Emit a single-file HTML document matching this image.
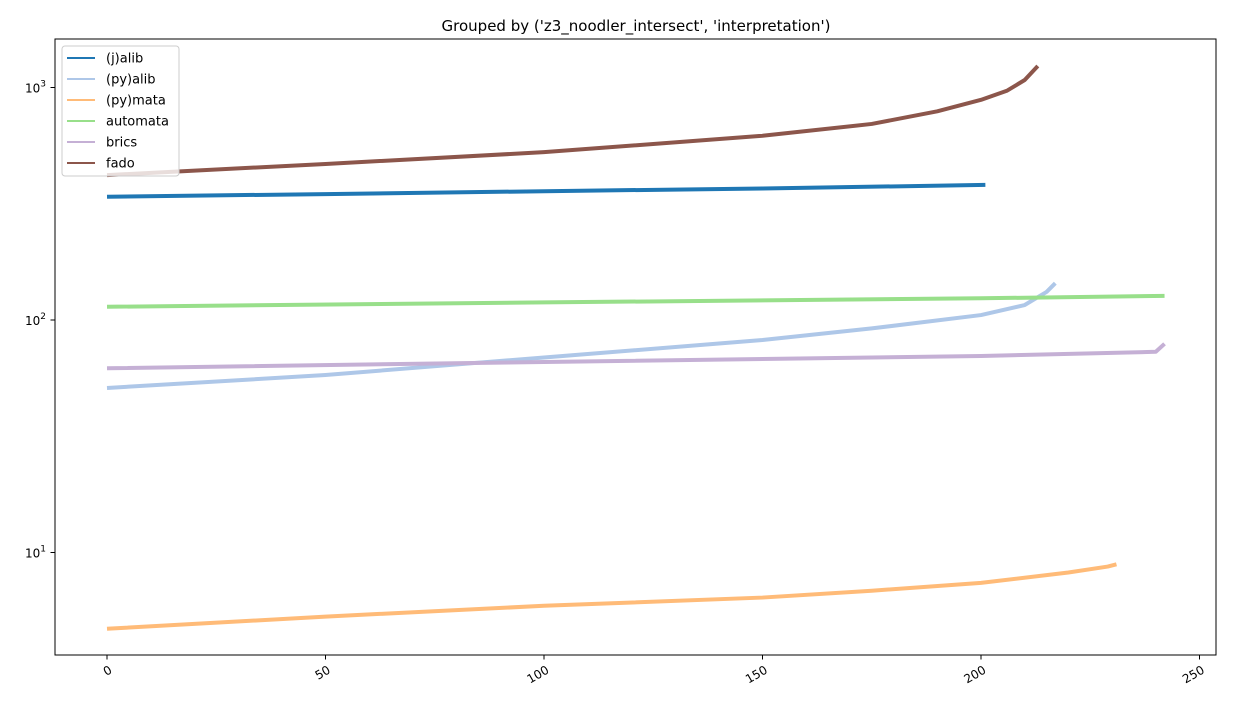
<!DOCTYPE html>
<html><head><meta charset="utf-8"><style>
body{margin:0;background:#fff;font-family:"Liberation Sans","DejaVu Sans",sans-serif}
svg text{font-family:"DejaVu Sans","Liberation Sans",sans-serif}
</style></head><body>
<svg id="chart" width="1237" height="710" xmlns="http://www.w3.org/2000/svg">
<rect width="1237" height="710" fill="#fff"/>
<text x="636" y="31" font-size="15" text-anchor="middle">Grouped by ('z3_noodler_intersect', 'interpretation')</text>
<g id="lines"></g>
<rect x="55" y="39" width="1161" height="616" fill="none" stroke="#000" stroke-width="1"/>
<g id="ticks"></g>
<g id="legend"></g>
</svg>
<script>
const seriesNames=["(j)alib","(py)alib","(py)mata","automata","brics","fado"];
const seriesColors=["#1f77b4","#aec7e8","#ffbb78","#98df8a","#c5b0d5","#8c564b"];
const xJalib=[0,50,100,150,201];const yJalib=[339,348,358,368,381];
const xPyalib=[0,50,100,150,175,200,210,215,217];const yPyalib=[51,58,69,82,92,105,116,132,144];
const xPymata=[0,50,100,150,175,200,220,229,231];const yPymata=[4.7,5.3,5.9,6.4,6.85,7.4,8.2,8.7,8.9];
const xAutomata=[0,100,200,242];const yAutomata=[114,119,124,127];
const xBrics=[0,100,200,240,242];const yBrics=[62,66,70,73,79];
const xFado=[0,50,100,150,175,190,200,206,210,213];const yFado=[420,469,527,620,697,790,885,970,1077,1237];
const xTicks=[0,50,100,150,200,250];
const yTicks=[1,2,3];
const NS="http://www.w3.org/2000/svg";
function X(v){return 107+v*4.37;}
function Y(v){return 320-232.5*Math.log10(v/100);}
const data=[[xJalib,yJalib],[xPyalib,yPyalib],[xPymata,yPymata],[xAutomata,yAutomata],[xBrics,yBrics],[xFado,yFado]];
const lg=document.getElementById('lines');
[0,1,2,3,4,5].forEach(i=>{
 const p=document.createElementNS(NS,'polyline');
 
 
 p.setAttribute('points',data[i][0].map((x,k)=>X(x)+','+Y(data[i][1][k])).join(' '));
 p.setAttribute('fill','none');p.setAttribute('stroke',seriesColors[i]);p.setAttribute('stroke-width','4');
 p.setAttribute('stroke-linejoin','round');
 lg.appendChild(p);
});
const tg=document.getElementById('ticks');
xTicks.forEach(t=>{
 const l=document.createElementNS(NS,'line');
 
 
 l.setAttribute('x1',X(t));l.setAttribute('x2',X(t));l.setAttribute('y1',655);l.setAttribute('y2',659.5);l.setAttribute('stroke','#000');
 tg.appendChild(l);
 const tx=document.createElementNS(NS,'text');
 
 
 tx.setAttribute('font-size','12');tx.setAttribute('text-anchor','end');
 tx.setAttribute('transform','translate('+(X(t)+1)+',664) rotate(-30)');
 tx.setAttribute('dy','0.8em');
 tx.textContent=t;tg.appendChild(tx);
});
yTicks.forEach(e=>{
 const y=Y(Math.pow(10,e));
 const l=document.createElementNS(NS,'line');
 
 
 l.setAttribute('x1',50.5);l.setAttribute('x2',55);l.setAttribute('y1',y);l.setAttribute('y2',y);l.setAttribute('stroke','#000');
 tg.appendChild(l);
 const tx=document.createElementNS(NS,'text');
 
 
 tx.setAttribute('font-size','12');tx.setAttribute('text-anchor','end');
 tx.setAttribute('x',46);tx.setAttribute('y',y+5);
 tx.innerHTML='10<tspan dy="-6" font-size="9">'+e+'</tspan>';
 tg.appendChild(tx);
});
const leg=document.getElementById('legend');
const box=document.createElementNS(NS,'rect');


box.setAttribute('x',62);box.setAttribute('y',46);box.setAttribute('width',117);box.setAttribute('height',130);box.setAttribute('rx',3);
box.setAttribute('fill','#fff');box.setAttribute('fill-opacity','0.8');box.setAttribute('stroke','#ccc');
leg.appendChild(box);
seriesNames.forEach((n,i)=>{
 const y=58+i*21;
 const l=document.createElementNS(NS,'line');
 
 
 l.setAttribute('x1',67);l.setAttribute('x2',95);l.setAttribute('y1',y);l.setAttribute('y2',y);l.setAttribute('stroke',seriesColors[i]);l.setAttribute('stroke-width','2');
 leg.appendChild(l);
 const tx=document.createElementNS(NS,'text');
 
 
 tx.setAttribute('x',106);tx.setAttribute('y',y+4.5);tx.setAttribute('font-size','13');
 tx.textContent=n;leg.appendChild(tx);
});
</script>
</body></html>
